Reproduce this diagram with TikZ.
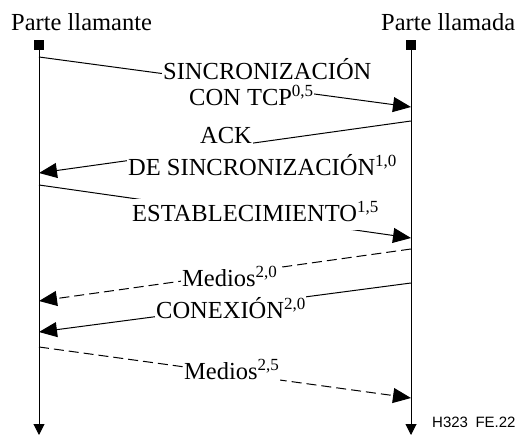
\documentclass[tikz,border=0pt]{standalone}
\usepackage{fontspec}
\setmainfont{Liberation Serif}
\newfontfamily\arialfont{Liberation Sans}
\usetikzlibrary{arrows.meta}
\newcommand\supx[1]{\raisebox{9pt}{\fontsize{17}{17}\selectfont #1}}
\begin{document}
\begin{tikzpicture}[x=1pt,y=-1pt,
  sq/.style={fill=black,minimum size=10pt,inner sep=0pt},
  life/.style={line width=1pt,-{Triangle[length=11pt,width=11pt]}},
  msg/.style={line width=1pt,-{Triangle[length=18pt,width=15pt]}},
  dmsg/.style={msg,dash pattern=on 10pt off 5pt},
  lbl/.style={fill=white,inner sep=1pt,text height=22pt,text depth=7pt,anchor=base west,font=\fontsize{24.5}{28}\selectfont},
  hdr/.style={inner sep=0pt,anchor=base west,font=\fontsize{24.5}{28}\selectfont}]
\useasboundingbox (0,0) rectangle (522,435);
% headers
\node[hdr] (hL) at (11,31) {Parte llamante};
\node[hdr] (hR) at (381,31) {Parte llamada};
% lifelines
\node[sq] (L0) at (39,45) {};
\node[sq] (R0) at (411,45) {};
\coordinate (Lend) at (39,435);
\coordinate (Rend) at (411,435);
\draw[life] (L0) -- (Lend);
\draw[life] (R0) -- (Rend);
% message end points
\coordinate (a1) at (39,57);   \coordinate (b1) at (411,107);
\coordinate (b2) at (411,121); \coordinate (a2) at (39,173);
\coordinate (a3) at (39,185);  \coordinate (b3) at (411,238);
\coordinate (b4) at (411,249); \coordinate (a4) at (39,301);
\coordinate (b5) at (411,283); \coordinate (a5) at (39,332);
\coordinate (a6) at (39,347);  \coordinate (b6) at (411,398);
\draw[msg] (a1) -- (b1);
\draw[msg] (b2) -- (a2);
\draw[msg] (a3) -- (b3);
\draw[dmsg] (b4) -- (a4);
\draw[msg] (b5) -- (a5);
\draw[dmsg] (a6) -- (b6);
% labels
\node[lbl] (t1a) at (162,80) {SINCRONIZACIÓN};
\node[lbl] (t1b) at (188,106) {CON TCP\supx{0,5}};
\node[lbl,text depth=9pt] (t2a) at (199,144) {ACK};
\node[lbl,text height=26pt] (t2b) at (127,176) {DE SINCRONIZACIÓN\supx{1,0}};
\node[lbl] (t3) at (131,222) {ESTABLECIMIENTO\supx{1,5}};
\node[lbl] (t4) at (181,287) {Medios\supx{2,0}};
\node[lbl] (t5) at (155,319) {CONEXIÓN\supx{2,0}};
\node[lbl] (t6) at (183,380) {Medios\supx{2,5}};
\node[inner sep=0pt,anchor=base west,font=\arialfont\fontsize{15}{18}\selectfont] (fig) at (432,428) {H323\hspace{0.5em}FE.22};
\end{tikzpicture}
\end{document}
